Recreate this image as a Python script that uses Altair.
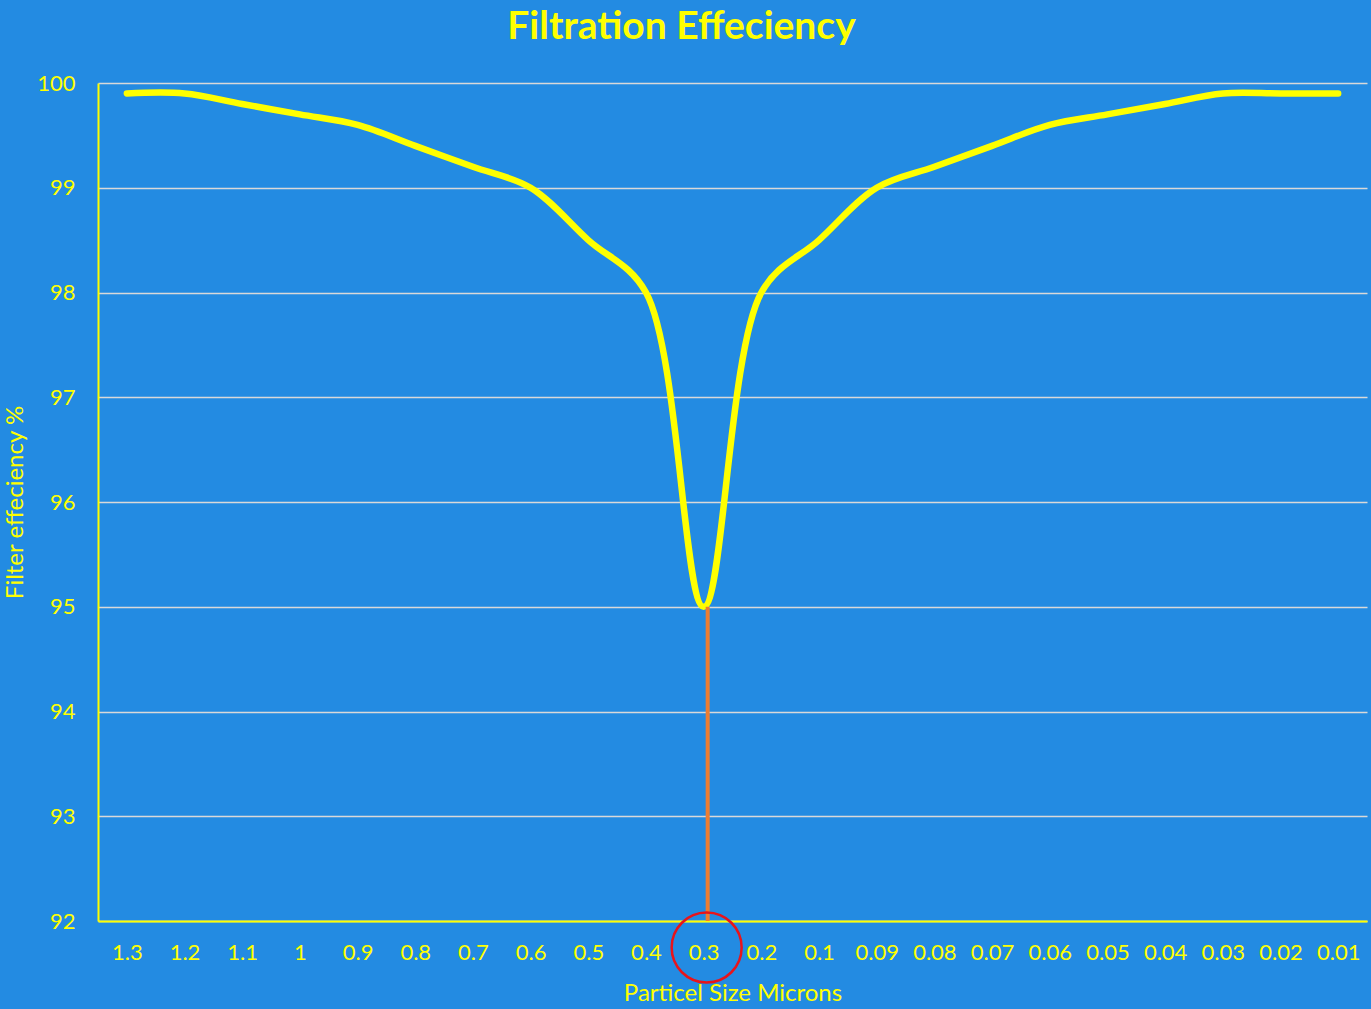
import altair as alt
import pandas as pd

sizes = ["1.3", "1.2", "1.1", "1", "0.9", "0.8", "0.7", "0.6", "0.5", "0.4", "0.3",
         "0.2", "0.1", "0.09", "0.08", "0.07", "0.06", "0.05", "0.04", "0.03", "0.02", "0.01"]
efficiency = [99.9, 99.9, 99.8, 99.7, 99.6, 99.4, 99.2, 99.0, 98.5, 98.0, 95.0,
              98.0, 98.5, 99.0, 99.2, 99.4, 99.6, 99.7, 99.8, 99.9, 99.9, 99.9]

mpps_size = ["0.3"]
mpps_eff = [95.0]
axis_floor = [92.0]

df = pd.DataFrame({"size": sizes, "eff": efficiency})
df_mark = pd.DataFrame({"size": mpps_size, "eff": mpps_eff, "floor": axis_floor})

YELLOW = "#FFFF00"
FONT = "Lato"

x_enc = alt.X(
    "size:N",
    sort=sizes,
    scale=alt.Scale(type="point", padding=0.5),
    axis=alt.Axis(
        title="Particel Size Microns",
        labelAngle=0,
        labelColor=YELLOW,
        labelFontSize=22,
        labelFont=FONT,
        labelPadding=21,
        ticks=False,
        grid=False,
        domainColor=YELLOW,
        domainWidth=2,
        titleColor=YELLOW,
        titleFont=FONT,
        titleFontSize=24,
        titleFontWeight="normal",
        titleY=72,
        titleBaseline="middle",
    ),
)

y_scale = alt.Scale(domain=[92, 100], nice=False, zero=False)
y_axis = alt.Axis(
    title="Filter effeciency  %",
    values=[92, 93, 94, 95, 96, 97, 98, 99, 100],
    format="d",
    labelColor=YELLOW,
    labelFontSize=22,
    labelFont=FONT,
    labelPadding=23,
    ticks=False,
    grid=True,
    gridColor="#D9D9D9",
    gridWidth=1.5,
    domainColor=YELLOW,
    domainWidth=2,
    titleColor=YELLOW,
    titleFont=FONT,
    titleFontSize=24,
    titleFontWeight="normal",
    titleX=-83,
    titleY=419,
    titleAngle=270,
    titleAlign="center",
    titleBaseline="middle",
)

rule = alt.Chart(df_mark).mark_rule(color="#ED7D31", strokeWidth=4, xOffset=4).encode(
    x=alt.X("size:N", sort=sizes, scale=alt.Scale(type="point", padding=0.5)),
    y=alt.Y("eff:Q", scale=y_scale),
    y2="floor:Q",
)

line = alt.Chart(df).mark_line(
    color=YELLOW, strokeWidth=6.5, interpolate="catmull-rom", strokeCap="round"
).encode(
    x=x_enc,
    y=alt.Y("eff:Q", scale=y_scale, axis=y_axis),
)

circle = alt.Chart(df_mark).mark_point(
    shape="circle", filled=False, color="#E8141B", strokeWidth=2.5, size=4900,
    opacity=1, xOffset=3,
).encode(
    x=alt.X("size:N", sort=sizes, scale=alt.Scale(type="point", padding=0.5)),
    y=alt.value(864.5),
)

chart = alt.layer(line, rule, circle).properties(
    width=1269,
    height=838,
    autosize=alt.AutoSizeParams(type="none"),
    padding={"left": 98, "top": 83, "right": 4, "bottom": 88},
    background="#238BE2",
    title=alt.TitleParams(
        text="Filtration Effeciency",
        color=YELLOW,
        font=FONT,
        fontSize=39,
        fontWeight="bold",
        anchor="middle",
        dx=-51,
        offset=25,
    ),
).configure_view(stroke=None)

chart.save("out.html", embed_options={"renderer": "svg", "actions": False})
